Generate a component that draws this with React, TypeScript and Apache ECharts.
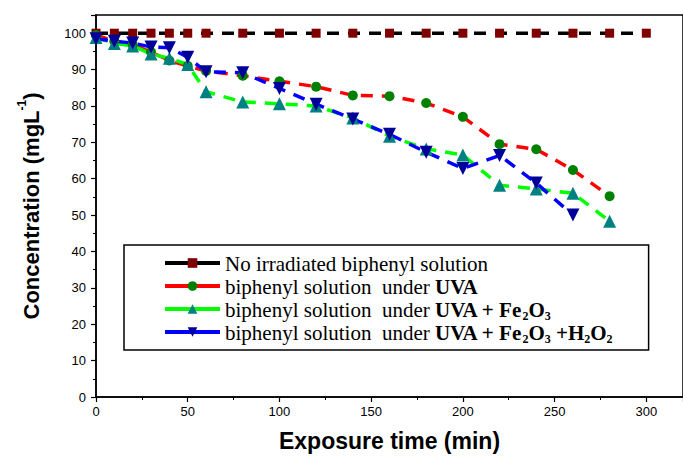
import React, { useEffect, useRef } from "react";
import * as echarts from "echarts";

const times = [0, 10, 20, 30, 40, 50, 60, 80, 100, 120, 140, 160, 180, 200, 220, 240, 260, 280, 300];
const noIrradiated = [100, 100, 100, 100, 100, 100, 100, 100, 100, 100, 100, 100, 100, 100, 100, 100, 100, 100, 100];
const underUVA = [99.5, 97.8, 96.8, 94.8, 92.5, 91, 89.6, 88.3, 86.8, 85.3, 82.9, 82.7, 80.8, 77, 69.5, 68.1, 62.4, 55.2];
const underUVAFe = [98.8, 97.2, 96.5, 94.3, 93.1, 91.4, 83.9, 81.1, 80.6, 80, 76.7, 71.7, 68.2, 66.5, 58.2, 57.2, 56, 48.3];
const underUVAFeH2O2 = [98.5, 97.8, 97.3, 96.2, 96, 93.4, 89.4, 89.1, 84.8, 80.5, 76.4, 72.2, 67.3, 62.8, 66.4, 58.8, 50];

const seriesNames = [
  "No irradiated biphenyl solution",
  "biphenyl solution  under UVA",
  "biphenyl solution  under UVA + Fe2O3",
  "biphenyl solution  under UVA + Fe2O3 +H2O2",
];

const legendLabels: Record<string, string> = {
  [seriesNames[0]]: "{n|No irradiated biphenyl solution}{s| }",
  [seriesNames[1]]: "{n|biphenyl solution  under }{b|UVA}{s| }",
  [seriesNames[2]]: "{n|biphenyl solution  under }{b|UVA + Fe}{s|2}{b|O}{s|3}",
  [seriesNames[3]]: "{n|biphenyl solution  under }{b|UVA + Fe}{s|2}{b|O}{s|3}{b| +H}{s|2}{b|O}{s|2}",
};

const pairs = (vals: number[]) => vals.map((v, i) => [times[i], v]);

export default function App() {
  const ref = useRef<HTMLDivElement>(null);
  useEffect(() => {
    if (!ref.current) return;
    const chart = echarts.init(ref.current, null, { renderer: "svg" });
    const serif = "Liberation Serif";
    const sans = "Liberation Sans";
    const dash = [12, 9];
    chart.setOption({
      animation: false,
      backgroundColor: "#fff",
      grid: {
        left: 96,
        right: 0,
        top: 15,
        bottom: 60,
        show: true,
        borderColor: "#000",
        borderWidth: 1.5,
        backgroundColor: "transparent",
      },
      xAxis: {
        type: "value",
        min: 0,
        max: 320,
        interval: 50,
        name: "Exposure time (min)",
        nameLocation: "middle",
        nameGap: 32,
        nameTextStyle: { fontFamily: sans, fontWeight: "bold", fontSize: 23, color: "#000" },
        axisLine: { lineStyle: { color: "#000", width: 1.5 } },
        axisTick: { show: true, length: 5, lineStyle: { color: "#000", width: 1.2 } },
        minorTick: { show: true, splitNumber: 2, length: 3, lineStyle: { color: "#000", width: 1 } },
        axisLabel: { fontFamily: sans, fontSize: 13, color: "#000", margin: 8, showMaxLabel: false },
        splitLine: { show: false },
      },
      yAxis: {
        type: "value",
        min: 0,
        max: 105,
        interval: 10,
        name: "{t|Concentration (mgL}{u|-1}{t|)}",
        nameLocation: "middle",
        nameGap: 54,
        nameRotate: 90,
        nameTextStyle: {
          fontFamily: sans,
          fontWeight: "bold",
          fontSize: 22,
          color: "#000",
          rich: {
            t: { fontFamily: sans, fontWeight: "bold", fontSize: 22, color: "#000", lineHeight: 26, verticalAlign: "bottom" },
            u: { fontFamily: sans, fontWeight: "bold", fontSize: 12, color: "#000", lineHeight: 12, verticalAlign: "top" },
          },
        },
        axisLine: { show: true, lineStyle: { color: "#000", width: 1.5 } },
        axisTick: { show: true, length: 5, lineStyle: { color: "#000", width: 1.2 } },
        minorTick: { show: true, splitNumber: 2, length: 3, lineStyle: { color: "#000", width: 1 } },
        axisLabel: { fontFamily: sans, fontSize: 13, color: "#000", margin: 10, showMaxLabel: false },
        splitLine: { show: false },
      },
      legend: {
        orient: "vertical",
        left: 124,
        top: 245,
        padding: [8, 36, 5, 39],
        itemGap: 0,
        itemWidth: 55,
        itemHeight: 12,
        borderColor: "#000",
        borderWidth: 1.5,
        backgroundColor: "#fff",
        lineStyle: { type: "solid", width: 4 },
        data: seriesNames,
        formatter: (name: string) => legendLabels[name] || name,
        textStyle: {
          fontFamily: serif,
          fontSize: 21,
          color: "#000",
          lineHeight: 20,
          rich: {
            n: { fontFamily: serif, fontSize: 21, color: "#000", lineHeight: 20, verticalAlign: "top" },
            b: { fontFamily: serif, fontSize: 21, fontWeight: "bold", color: "#000", lineHeight: 20, verticalAlign: "top" },
            s: { fontFamily: serif, fontSize: 12, fontWeight: "bold", color: "#000", lineHeight: 12, verticalAlign: "top", padding: [11, 0, 0, 0] },
          },
        },
      },
      series: [
        {
          name: seriesNames[0],
          type: "line",
          data: pairs(noIrradiated),
          symbol: "rect",
          symbolSize: 9,
          itemStyle: { color: "#800000" },
          lineStyle: { color: "#000", width: 3.5, type: dash },
        },
        {
          name: seriesNames[1],
          type: "line",
          data: pairs(underUVA),
          symbol: "circle",
          symbolSize: 10,
          itemStyle: { color: "#008000" },
          lineStyle: { color: "#ff0000", width: 3.5, type: dash },
        },
        {
          name: seriesNames[2],
          type: "line",
          data: pairs(underUVAFe),
          symbol: "triangle",
          symbolSize: 13,
          itemStyle: { color: "#008080" },
          lineStyle: { color: "#00ff00", width: 3.5, type: dash },
        },
        {
          name: seriesNames[3],
          type: "line",
          data: pairs(underUVAFeH2O2),
          symbol: "triangle",
          symbolRotate: 180,
          symbolSize: 13,
          itemStyle: { color: "#000099" },
          lineStyle: { color: "#0000ff", width: 3.5, type: dash },
        },
      ],
    });
    return () => chart.dispose();
  }, []);
  return (
    <div
      ref={ref}
      style={{ position: "fixed", left: 0, top: 0, width: 683, height: 457, background: "#fff" }}
    />
  );
}
